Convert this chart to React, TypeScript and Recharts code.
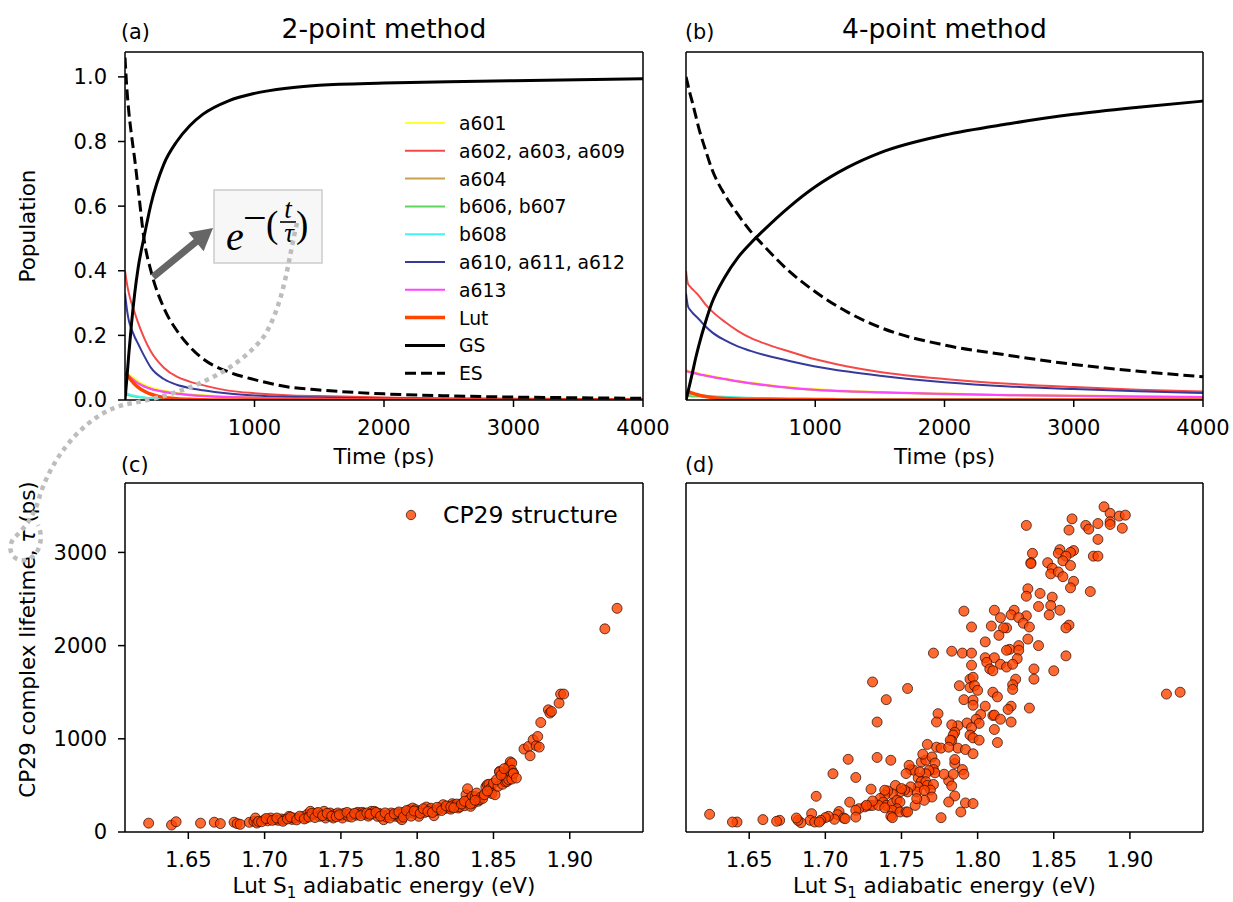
import React from 'react';
import { LineChart, Line, ScatterChart, Scatter, XAxis, YAxis, Legend, Label, ReferenceLine } from 'recharts';

const FONT = '"DejaVu Sans", Verdana, sans-serif';

// time grid (ps) shared by both population panels
const TIME_PS = [0, 15, 30, 50, 75, 100, 150, 200, 300, 400, 500, 600, 800, 1000, 1250, 1500, 2000, 2500, 3000, 3500, 4000];

// (a) 2-point method populations
const ES_2PT = [1.06, 0.96, 0.89, 0.82, 0.745, 0.66, 0.49, 0.4, 0.285, 0.215, 0.165, 0.128, 0.087, 0.063, 0.041, 0.031, 0.019, 0.013, 0.009, 0.007, 0.005];
const GS_2PT = [0, 0.07, 0.145, 0.235, 0.33, 0.405, 0.51, 0.605, 0.73, 0.8, 0.849, 0.884, 0.926, 0.949, 0.965, 0.974, 0.981, 0.985, 0.988, 0.991, 0.994];
const A602_2PT = [0.4, 0.36, 0.33, 0.3, 0.27, 0.24, 0.19, 0.15, 0.1, 0.072, 0.057, 0.046, 0.029, 0.021, 0.015, 0.012, 0.008, 0.005, 0.004, 0.003, 0.002];
const A610_2PT = [0.33, 0.28, 0.245, 0.22, 0.195, 0.175, 0.135, 0.1, 0.065, 0.047, 0.037, 0.03, 0.02, 0.014, 0.01, 0.008, 0.005, 0.004, 0.003, 0.002, 0.002];
const A601_2PT = [0.09, 0.085, 0.08, 0.073, 0.066, 0.058, 0.047, 0.039, 0.029, 0.022, 0.018, 0.015, 0.011, 0.008, 0.006, 0.005, 0.003, 0.002, 0.002, 0.001, 0.001];
const A604_2PT = [0.085, 0.08, 0.075, 0.068, 0.06, 0.053, 0.043, 0.035, 0.026, 0.02, 0.016, 0.013, 0.009, 0.007, 0.005, 0.004, 0.003, 0.002, 0.001, 0.001, 0.001];
const A613_2PT = [0.083, 0.078, 0.073, 0.066, 0.058, 0.051, 0.041, 0.034, 0.025, 0.019, 0.015, 0.012, 0.009, 0.007, 0.005, 0.004, 0.002, 0.002, 0.001, 0.001, 0.001];
const LUT_2PT = [0.085, 0.077, 0.07, 0.06, 0.049, 0.04, 0.027, 0.018, 0.008, 0.004, 0.002, 0.001, 0, 0, 0, 0, 0, 0, 0, 0, 0];
const B606_2PT = [0.018, 0.016, 0.015, 0.013, 0.011, 0.009, 0.007, 0.005, 0.003, 0.002, 0.001, 0, 0, 0, 0, 0, 0, 0, 0, 0, 0];
const B608_2PT = [0.022, 0.02, 0.018, 0.015, 0.013, 0.011, 0.008, 0.006, 0.003, 0.002, 0.001, 0, 0, 0, 0, 0, 0, 0, 0, 0, 0];

// (b) 4-point method populations
const ES_4PT = [1.0, 0.975, 0.95, 0.92, 0.88, 0.84, 0.775, 0.715, 0.635, 0.575, 0.522, 0.478, 0.398, 0.335, 0.272, 0.225, 0.17, 0.138, 0.11, 0.089, 0.072];
const GS_4PT = [0, 0.025, 0.05, 0.085, 0.13, 0.17, 0.24, 0.3, 0.38, 0.44, 0.485, 0.525, 0.598, 0.66, 0.72, 0.765, 0.82, 0.855, 0.884, 0.906, 0.925];
const A602_4PT = [0.4, 0.36, 0.352, 0.343, 0.333, 0.322, 0.296, 0.275, 0.242, 0.214, 0.192, 0.176, 0.15, 0.126, 0.104, 0.087, 0.065, 0.05, 0.04, 0.032, 0.026];
const A610_4PT = [0.33, 0.29, 0.28, 0.27, 0.26, 0.25, 0.228, 0.21, 0.185, 0.166, 0.152, 0.14, 0.121, 0.104, 0.088, 0.075, 0.055, 0.042, 0.034, 0.027, 0.022];
const A601_4PT = [0.095, 0.09, 0.089, 0.087, 0.085, 0.082, 0.078, 0.074, 0.067, 0.06, 0.054, 0.049, 0.04, 0.034, 0.029, 0.025, 0.02, 0.016, 0.014, 0.012, 0.01];
const A604_4PT = [0.09, 0.087, 0.086, 0.084, 0.082, 0.079, 0.075, 0.071, 0.064, 0.057, 0.051, 0.046, 0.037, 0.031, 0.026, 0.023, 0.018, 0.015, 0.012, 0.01, 0.009];
const A613_4PT = [0.092, 0.088, 0.087, 0.085, 0.083, 0.08, 0.076, 0.072, 0.065, 0.058, 0.052, 0.047, 0.038, 0.032, 0.027, 0.024, 0.019, 0.015, 0.013, 0.011, 0.009];
const LUT_4PT = [0, 0.025, 0.024, 0.021, 0.018, 0.015, 0.011, 0.008, 0.005, 0.003, 0.002, 0.002, 0.001, 0.001, 0, 0, 0, 0, 0, 0, 0];
const B606_4PT = [0.012, 0.012, 0.012, 0.011, 0.011, 0.011, 0.01, 0.009, 0.008, 0.007, 0.006, 0.006, 0.005, 0.004, 0.003, 0.003, 0.002, 0.002, 0.001, 0.001, 0.001];
const B608_4PT = [0.02, 0.019, 0.018, 0.017, 0.016, 0.015, 0.013, 0.012, 0.01, 0.008, 0.007, 0.006, 0.005, 0.004, 0.003, 0.003, 0.002, 0.001, 0.001, 0.001, 0.001];

const TIME_TICKS = [1000, 2000, 3000, 4000];
const POP_TICKS = [0, 0.2, 0.4, 0.6, 0.8, 1.0];
const ENERGY_TICKS = [1.65, 1.7, 1.75, 1.8, 1.85, 1.9];
const LIFETIME_TICKS = [0, 1000, 2000, 3000];

// (c) Lut S1 energy (eV) vs lifetime (ps), 2-point fit
const CP29_2PT: [number, number][] = [
  [1.624, 95], [1.639, 75], [1.642, 110], [1.658, 95], [1.667, 105], [1.671, 90], [1.68, 105], [1.682, 90], [1.684, 82],
  [1.69, 104], [1.693, 114], [1.694, 150], [1.695, 96], [1.696, 114], [1.7, 132], [1.702, 120], [1.704, 150], [1.707, 132], [1.709, 125], [1.711, 140],
  [1.713, 132], [1.716, 168], [1.718, 135], [1.719, 150], [1.722, 150], [1.725, 165], [1.727, 150], [1.728, 190], [1.73, 222], [1.732, 186],
  [1.734, 200], [1.736, 168], [1.737, 185], [1.739, 222], [1.74, 150], [1.742, 175], [1.743, 204], [1.745, 150], [1.746, 190], [1.748, 204],
  [1.75, 175], [1.751, 150], [1.752, 200], [1.753, 186], [1.755, 168], [1.756, 195], [1.758, 186], [1.76, 180], [1.761, 211], [1.762, 195],
  [1.764, 211], [1.765, 200], [1.766, 186], [1.768, 170], [1.77, 222], [1.771, 195], [1.772, 222], [1.774, 168], [1.775, 200], [1.777, 185],
  [1.778, 132], [1.78, 160], [1.781, 186], [1.783, 204], [1.784, 175], [1.786, 168], [1.787, 200], [1.788, 186], [1.789, 150], [1.79, 132],
  [1.791, 210], [1.792, 186], [1.794, 200], [1.795, 239], [1.796, 220], [1.797, 257], [1.798, 195], [1.799, 240], [1.8, 222], [1.801, 168],
  [1.803, 230], [1.805, 210], [1.806, 268], [1.808, 239], [1.809, 255], [1.811, 175], [1.812, 230], [1.814, 239], [1.815, 260], [1.817, 293],
  [1.818, 250], [1.82, 275], [1.821, 257], [1.822, 245], [1.823, 304], [1.824, 290], [1.825, 275], [1.826, 300], [1.827, 257], [1.828, 270],
  [1.83, 310], [1.831, 282], [1.832, 400], [1.833, 464], [1.834, 347], [1.835, 275], [1.836, 382], [1.837, 311], [1.838, 380], [1.839, 418],
  [1.84, 330], [1.841, 347], [1.842, 376], [1.843, 360], [1.845, 484], [1.846, 507], [1.847, 512], [1.848, 436], [1.848, 466], [1.849, 412],
  [1.85, 525], [1.851, 400], [1.853, 490], [1.854, 650], [1.854, 645], [1.856, 512], [1.857, 598], [1.858, 597], [1.858, 537], [1.859, 543],
  [1.86, 686], [1.86, 706], [1.86, 562], [1.861, 650], [1.861, 753], [1.862, 740], [1.862, 568], [1.862, 663], [1.863, 632], [1.863, 627],
  [1.865, 579], [1.87, 890], [1.873, 918], [1.874, 818], [1.876, 990], [1.878, 925], [1.879, 1025], [1.88, 911], [1.881, 1175], [1.886, 1311],
  [1.887, 1276], [1.888, 1293], [1.893, 1383], [1.894, 1480], [1.896, 1480], [1.923, 2180], [1.931, 2400],
  [1.698, 110], [1.701, 145], [1.705, 125], [1.708, 150], [1.712, 115], [1.715, 140], [1.717, 160], [1.721, 130], [1.723, 170], [1.726, 140],
  [1.729, 160], [1.731, 200], [1.733, 155], [1.735, 210], [1.738, 175], [1.741, 200], [1.744, 170], [1.747, 165], [1.749, 185], [1.754, 210],
  [1.757, 160], [1.759, 200], [1.763, 175], [1.767, 205], [1.769, 190], [1.773, 210], [1.776, 170], [1.779, 205], [1.782, 150], [1.785, 195],
  [1.788, 215], [1.791, 160], [1.793, 230], [1.796, 170], [1.798, 225], [1.802, 200], [1.804, 250], [1.807, 220], [1.81, 210], [1.813, 265],
  [1.816, 230], [1.819, 280], [1.822, 270], [1.824, 260], [1.829, 300], [1.831, 330], [1.835, 300], [1.838, 340], [1.844, 400], [1.846, 440],
  [1.852, 560], [1.855, 610], [1.857, 680],
];

// (d) Lut S1 energy (eV) vs lifetime (ps), 4-point fit
const CP29_4PT: [number, number][] = [
  [1.883, 3490], [1.887, 3420], [1.893, 3390], [1.897, 3400], [1.887, 3330], [1.887, 3300], [1.895, 3260], [1.879, 3310], [1.871, 3290], [1.873, 3250],
  [1.862, 3360], [1.86, 3240], [1.832, 3290], [1.879, 3140], [1.876, 2960], [1.879, 2960], [1.854, 3030], [1.853, 2990], [1.863, 3020], [1.861, 3000],
  [1.858, 2960], [1.856, 2910], [1.836, 2990], [1.835, 2890], [1.835, 2880], [1.846, 2890], [1.849, 2830], [1.848, 2770], [1.853, 2790], [1.856, 2740],
  [1.861, 2860], [1.863, 2690], [1.861, 2620], [1.874, 2580], [1.833, 2610], [1.832, 2530], [1.841, 2560], [1.849, 2520], [1.84, 2420], [1.848, 2430],
  [1.847, 2330], [1.854, 2380], [1.832, 2320], [1.824, 2380], [1.822, 2330], [1.827, 2300], [1.83, 2240], [1.834, 2200], [1.86, 2220], [1.858, 2190],
  [1.811, 2380], [1.815, 2300], [1.819, 2190], [1.817, 2190], [1.809, 2210], [1.814, 2110], [1.833, 2070], [1.84, 2000], [1.805, 2040], [1.827, 2000],
  [1.821, 1960], [1.819, 1950], [1.827, 1950], [1.826, 1860], [1.858, 1890], [1.85, 1730], [1.837, 1750], [1.837, 1640], [1.805, 1870], [1.811, 1870],
  [1.806, 1820], [1.808, 1750], [1.81, 1730], [1.815, 1800], [1.819, 1770], [1.823, 1800], [1.791, 2370], [1.796, 2200], [1.771, 1920], [1.783, 1940],
  [1.79, 1920], [1.796, 1920], [1.796, 1790], [1.795, 1640], [1.797, 1660], [1.788, 1570], [1.795, 1550], [1.798, 1570], [1.8, 1520], [1.825, 1640],
  [1.823, 1580], [1.823, 1530], [1.81, 1500], [1.813, 1450], [1.834, 1330], [1.822, 1350], [1.82, 1315], [1.81, 1250], [1.811, 1255], [1.815, 1210],
  [1.822, 1180], [1.811, 1100], [1.813, 960], [1.791, 1420], [1.797, 1415], [1.797, 1360], [1.805, 1350], [1.802, 1260], [1.799, 1210], [1.801, 1165],
  [1.793, 1170], [1.796, 1120], [1.795, 1040], [1.797, 1010], [1.801, 985], [1.787, 1140], [1.783, 1150], [1.785, 1070], [1.784, 1040], [1.783, 980],
  [1.782, 985], [1.787, 900], [1.792, 885], [1.797, 840], [1.774, 1270], [1.773, 1180], [1.773, 910], [1.776, 900], [1.767, 940], [1.781, 910],
  [1.763, 750], [1.766, 770], [1.77, 805], [1.772, 740], [1.771, 670], [1.772, 635], [1.768, 660], [1.766, 625], [1.756, 670], [1.758, 663],
  [1.761, 580], [1.763, 540], [1.766, 540], [1.767, 500], [1.771, 510], [1.769, 450], [1.77, 375], [1.765, 340], [1.761, 485], [1.76, 430],
  [1.756, 485], [1.754, 430], [1.752, 450], [1.749, 430], [1.746, 500], [1.744, 410], [1.741, 440], [1.739, 395], [1.736, 360], [1.738, 320],
  [1.74, 285], [1.744, 305], [1.747, 340], [1.749, 322], [1.747, 250], [1.744, 233], [1.743, 170], [1.749, 215], [1.753, 215], [1.754, 215],
  [1.759, 285], [1.755, 715], [1.743, 770], [1.734, 800], [1.715, 780], [1.705, 625], [1.72, 585], [1.73, 460], [1.729, 285], [1.726, 270],
  [1.731, 285], [1.735, 285], [1.739, 260], [1.722, 250], [1.72, 233], [1.72, 160], [1.716, 320], [1.709, 220], [1.708, 186], [1.712, 150],
  [1.713, 143], [1.706, 136], [1.702, 168], [1.7, 154], [1.697, 125], [1.691, 197], [1.694, 383], [1.69, 125], [1.693, 107], [1.696, 107],
  [1.684, 100], [1.682, 125], [1.681, 150], [1.67, 125], [1.668, 115], [1.659, 133], [1.642, 107], [1.639, 107], [1.624, 190], [1.781, 550],
  [1.783, 495], [1.785, 387], [1.781, 322], [1.776, 154], [1.789, 215], [1.792, 312], [1.797, 305], [1.778, 620], [1.784, 620], [1.79, 670],
  [1.791, 620], [1.785, 735], [1.785, 778], [1.734, 1180], [1.74, 1420], [1.731, 1610], [1.754, 1540], [1.744, 154], [1.924, 1480], [1.933, 1500],
  [1.764, 835], [1.762, 645], [1.753, 627], [1.75, 466], [1.739, 448], [1.731, 333], [1.727, 287], [1.76, 358], [1.765, 448],
];

type SeriesDef = { key: string; name: string; color: string; width: number; dash?: string };

const SERIES: SeriesDef[] = [
  { key: 'a601', name: 'a601', color: '#ffff2e', width: 2 },
  { key: 'a602', name: 'a602, a603, a609', color: '#f54848', width: 2 },
  { key: 'a604', name: 'a604', color: '#c9a24e', width: 2 },
  { key: 'b606', name: 'b606, b607', color: '#5cd65c', width: 2 },
  { key: 'b608', name: 'b608', color: '#40f5f5', width: 2 },
  { key: 'a610', name: 'a610, a611, a612', color: '#363a9c', width: 2 },
  { key: 'a613', name: 'a613', color: '#ff44ff', width: 2 },
  { key: 'lut', name: 'Lut', color: '#ff4500', width: 3.5 },
  { key: 'gs', name: 'GS', color: '#000000', width: 3 },
  { key: 'es', name: 'ES', color: '#000000', width: 3, dash: '11 5' },
];

const buildRows = (cols: Record<string, number[]>) =>
  TIME_PS.map((t, i) => {
    const row: Record<string, number> = { t };
    Object.keys(cols).forEach((k) => { row[k] = cols[k][i]; });
    return row;
  });

const rows2pt = buildRows({
  a601: A601_2PT, a602: A602_2PT, a604: A604_2PT, b606: B606_2PT, b608: B608_2PT,
  a610: A610_2PT, a613: A613_2PT, lut: LUT_2PT, gs: GS_2PT, es: ES_2PT,
});
const rows4pt = buildRows({
  a601: A601_4PT, a602: A602_4PT, a604: A604_4PT, b606: B606_4PT, b608: B608_4PT,
  a610: A610_4PT, a613: A613_4PT, lut: LUT_4PT, gs: GS_4PT, es: ES_4PT,
});

const toPoints = (pairs: [number, number][]) => pairs.map(([e, tau]) => ({ e, tau }));

const AXIS = { stroke: '#000', strokeWidth: 1.5 };
const TICK = { fontSize: 21, fill: '#000' };
const POP_MAX = 1.077;
const TAU_MAX = 3745;
const E_DOMAIN: [number, number] = [1.6085, 1.948];

const xLabel = (content: React.ReactNode, dy: number) => (props: any) => {
  const vb = props.viewBox || {};
  return (
    <text x={vb.x + vb.width / 2} y={vb.y + dy} textAnchor="middle" fontSize={21.5} fill="#000">
      {content}
    </text>
  );
};

const yLabel = (content: React.ReactNode, shift = 0) => (props: any) => {
  const vb = props.viewBox || {};
  const x = vb.x + 35;
  const y = vb.y + vb.height / 2 + shift;
  return (
    <text x={x} y={y} transform={`rotate(-90, ${x}, ${y})`} textAnchor="middle" fontSize={21.5} fill="#000">
      {content}
    </text>
  );
};

const PopulationLegend = () => (
  <svg width={250} height={285} style={{ display: 'block' }}>
    {SERIES.map((s, i) => {
      const y = 14 + i * 27.8;
      return (
        <g key={s.key}>
          <line x1={5} x2={45} y1={y} y2={y} stroke={s.color} strokeWidth={s.width} strokeDasharray={s.dash} />
          <text x={59} y={y + 7} fontSize={18.8} fill="#000">{s.name}</text>
        </g>
      );
    })}
  </svg>
);

const DOT_STYLE = { fill: '#ff4500', fillOpacity: 0.8, stroke: '#2a0800', strokeOpacity: 0.8, strokeWidth: 0.9 };

const ScatterLegend = () => (
  <svg width={250} height={40} style={{ display: 'block' }}>
    <circle cx={16} cy={15} r={4.7} {...DOT_STYLE} />
    <text x={48} y={22.5} fontSize={23.5} fill="#000">CP29 structure</text>
  </svg>
);

const Dot = (props: any) => <circle cx={props.cx} cy={props.cy} r={5} {...DOT_STYLE} />;

const PopulationPanel = ({ data, left }: { data: Record<string, number>[]; left: boolean }) => (
  <LineChart
    width={left ? 680 : 573}
    height={470}
    data={data}
    margin={{ top: 52, right: left ? 37 : 30, bottom: 0, left: 0 }}
  >
    <XAxis
      dataKey="t" type="number" domain={[0, 4000]} ticks={TIME_TICKS} allowDataOverflow interval={0}
      height={70} tickSize={7} tickMargin={13} tick={TICK} axisLine={AXIS} tickLine={AXIS}
      label={<Label content={xLabel('Time (ps)', 64)} />}
    />
    {left ? (
      <YAxis
        type="number" domain={[0, POP_MAX]} ticks={POP_TICKS} allowDataOverflow interval={0} width={125}
        tickSize={7} tickMargin={11} tick={TICK} axisLine={AXIS} tickLine={AXIS}
        tickFormatter={(v: number) => v.toFixed(1)}
        label={<Label content={yLabel('Population')} />}
      />
    ) : (
      <YAxis type="number" domain={[0, POP_MAX]} allowDataOverflow width={26} tick={false} tickLine={false} axisLine={AXIS} />
    )}
    {SERIES.map((s) => (
      <Line
        key={s.key} type="monotone" dataKey={s.key} name={s.name} stroke={s.color} strokeWidth={s.width}
        strokeDasharray={s.dash} dot={false} activeDot={false} isAnimationActive={false}
      />
    ))}
    <ReferenceLine y={POP_MAX} stroke="#000" strokeWidth={1.5} />
    <ReferenceLine x={4000} stroke="#000" strokeWidth={1.5} />
    {left && (
      <Legend
        layout="vertical" align="center" verticalAlign="middle"
        content={() => <PopulationLegend />}
        wrapperStyle={{ left: 400, top: 108.7, width: 250, height: 285 }}
      />
    )}
  </LineChart>
);

const LifetimePanel = ({ points, left }: { points: { e: number; tau: number }[]; left: boolean }) => (
  <ScatterChart width={left ? 680 : 573} height={432} margin={{ top: 13, right: left ? 37 : 30, bottom: 0, left: 0 }}>
    <XAxis
      dataKey="e" type="number" domain={E_DOMAIN} ticks={ENERGY_TICKS} allowDataOverflow interval={0}
      height={70} tickSize={7} tickMargin={13} tick={TICK} axisLine={AXIS} tickLine={AXIS}
      tickFormatter={(v: number) => v.toFixed(2)}
      label={
        <Label
          content={xLabel(
            <>
              Lut S<tspan fontSize={15} dy={5}>1</tspan>
              <tspan dy={-5}> adiabatic energy (eV)</tspan>
            </>,
            61,
          )}
        />
      }
    />
    {left ? (
      <YAxis
        dataKey="tau" type="number" domain={[0, TAU_MAX]} ticks={LIFETIME_TICKS} allowDataOverflow interval={0} width={125}
        tickSize={7} tickMargin={11} tick={TICK} axisLine={AXIS} tickLine={AXIS}
        label={
          <Label
            content={yLabel(
              <>
                CP29 complex lifetime, <tspan fontStyle="italic">τ</tspan> (ps)
              </>,
              -18,
            )}
          />
        }
      />
    ) : (
      <YAxis dataKey="tau" type="number" domain={[0, TAU_MAX]} allowDataOverflow width={26} tick={false} tickLine={false} axisLine={AXIS} />
    )}
    <ReferenceLine y={TAU_MAX} stroke="#000" strokeWidth={1.5} />
    <ReferenceLine x={E_DOMAIN[1]} stroke="#000" strokeWidth={1.5} />
    <Scatter name="CP29 structure" data={points} shape={Dot} isAnimationActive={false} />
    {left && (
      <Legend
        layout="vertical" align="center" verticalAlign="middle"
        content={() => <ScatterLegend />}
        wrapperStyle={{ left: 395, top: 30, width: 250, height: 40 }}
      />
    )}
  </ScatterChart>
);

// titles, panel letters and the fitting-function annotation
const Annotations = () => (
  <svg width={1233} height={902} style={{ position: 'absolute', left: 0, top: 0, pointerEvents: 'none' }}>
    <g fill="#000">
      <text x={384} y={38} textAnchor="middle" fontSize={26.5}>2-point method</text>
      <text x={944.5} y={38} textAnchor="middle" fontSize={26.5}>4-point method</text>
      <text x={121} y={39} fontSize={20.8}>(a)</text>
      <text x={685} y={39} fontSize={20.8}>(b)</text>
      <text x={121} y={472} fontSize={20.8}>(c)</text>
      <text x={685} y={472} fontSize={20.8}>(d)</text>
    </g>
    <rect x={214} y={190} width={108} height={73} fill="#f7f7f7" stroke="#cccccc" strokeWidth={1.5} />
    <g fill="#000" fontFamily='"Liberation Serif", "DejaVu Serif", serif'>
      <text x={226} y={250} fontSize={40} fontStyle="italic">e</text>
      <text x={243} y={232} fontSize={42}>−</text>
      <text x={266} y={237} fontSize={37}>(</text>
      <text x={288} y={218} fontSize={27} fontStyle="italic" textAnchor="middle">t</text>
      <line x1={280} x2={296} y1={222} y2={222} stroke="#000" strokeWidth={1.6} />
      <text x={289} y={242} fontSize={27} fontStyle="italic" textAnchor="middle">τ</text>
      <text x={296} y={237} fontSize={37}>)</text>
    </g>
    <path
      d="M 297 223 C 288 260, 285 300, 265 335 C 235 375, 180 395, 127 404 C 90 412, 55 450, 40 495 C 35 515, 25 528, 14 538 C 6 548, 12 562, 25 560 C 38 558, 45 540, 38 525"
      fill="none" stroke="#bdbdbd" strokeWidth={4.5} strokeDasharray="4.5 4.5"
    />
    <line x1={153} y1={277} x2={197} y2={241} stroke="#666666" strokeWidth={7} />
    <polygon points="213,228 203.6,251.2 188.4,232.6" fill="#666666" />
  </svg>
);

export default function App() {
  return (
    <div style={{ position: 'absolute', left: 0, top: 0, width: 1233, height: 902, background: '#fff', fontFamily: FONT }}>
      <div style={{ position: 'absolute', left: 0, top: 0 }}>
        <PopulationPanel data={rows2pt} left />
      </div>
      <div style={{ position: 'absolute', left: 660, top: 0 }}>
        <PopulationPanel data={rows4pt} left={false} />
      </div>
      <div style={{ position: 'absolute', left: 0, top: 470 }}>
        <LifetimePanel points={toPoints(CP29_2PT)} left />
      </div>
      <div style={{ position: 'absolute', left: 660, top: 470 }}>
        <LifetimePanel points={toPoints(CP29_4PT)} left={false} />
      </div>
      <Annotations />
    </div>
  );
}
